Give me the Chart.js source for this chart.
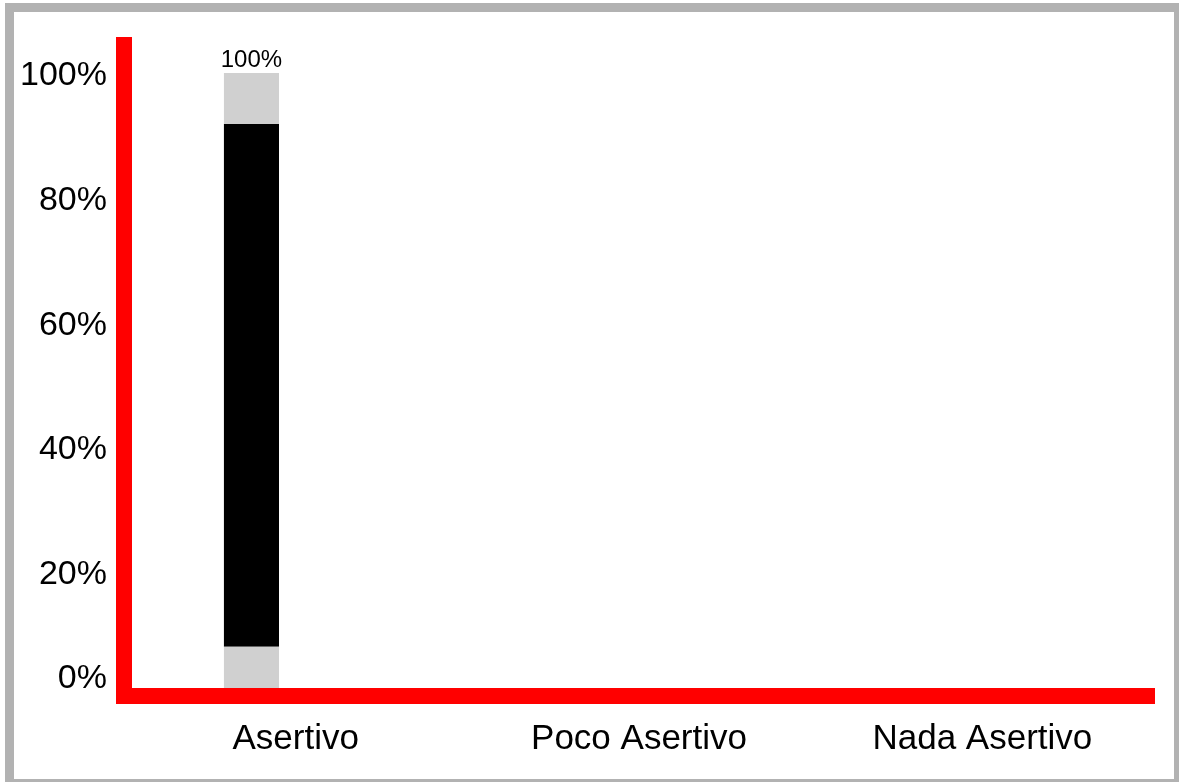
<!DOCTYPE html>
<html>
<head>
<meta charset="utf-8">
<script src="https://cdn.jsdelivr.net/npm/chart.js@4.4.0/dist/chart.umd.min.js"></script>
<style>
    html, body { margin: 0; padding: 0; background: #ffffff; overflow: hidden; }
    #frame { position: absolute; left: 5px; top: 3px; width: 1160px; height: 767px; border: 9px solid #b2b2b2; }
    #wrap { position: absolute; left: 0; top: 0; width: 1179px; height: 782px; }
</style>
</head>
<body>
<div id="frame"></div>
<div id="wrap"><canvas id="chart"></canvas></div>
<script>
"use strict";

/*==========================================================
    DATA
==========================================================*/

const categories = ["Asertivo", "Poco Asertivo", "Nada Asertivo"];

// stacked parts of each bar, in % (bottom to top)
const lowerGrey = [7.9, null, null];
const blackPart = [83.9, null, null];
const upperGrey = [8.2, null, null];

// second, empty group: the Asertivo bar sits in the left slot
const emptyGroup = [null, null, null];

const yTicks = [0, 20, 40, 60, 80, 100];


const FONT = "'Liberation Sans', Arial, sans-serif";


/*==========================================================
    TOTAL LABEL ON TOP OF THE BAR
==========================================================*/

const totalLabel = {

    id: "totalLabel",

    afterDatasetsDraw(chart) {

        const ctx = chart.ctx;
        const meta = chart.getDatasetMeta(2);

        ctx.save();
        ctx.font = "24px " + FONT;
        ctx.fillStyle = "#000000";
        ctx.textAlign = "center";
        ctx.textBaseline = "bottom";

        meta.data.forEach((bar, i) => {

            const total = (lowerGrey[i] || 0) + (blackPart[i] || 0) + (upperGrey[i] || 0);

            if (!total) return;

            ctx.fillText(Math.round(total) + "%", bar.x, bar.y - 1);

        });

        ctx.restore();

    }

};


/*==========================================================
    CHART
==========================================================*/

const barStyle = {
    stack: "main",
    borderWidth: 0,
    categoryPercentage: 0.515,
    barPercentage: 0.623
};

new Chart(document.getElementById("chart"), {

    type: "bar",

    data: {

        labels: categories,

        datasets: [
            Object.assign({ label: "bajo", data: lowerGrey, backgroundColor: "#d0d0d0" }, barStyle),
            Object.assign({ label: "medio", data: blackPart, backgroundColor: "#000000" }, barStyle),
            Object.assign({ label: "alto", data: upperGrey, backgroundColor: "#d0d0d0" }, barStyle),
            Object.assign({}, barStyle, { label: "vacío", data: emptyGroup, stack: "other", backgroundColor: "#ffffff" })
        ]

    },

    options: {

        responsive: true,
        maintainAspectRatio: false,
        animation: false,

        layout: {
            padding: { left: 14, right: 25, top: 45, bottom: 0 }
        },

        scales: {

            x: {
                stacked: true,
                grid: { display: false, drawTicks: false },
                border: { display: true, color: "#ff0000", width: 16, z: 1 },
                ticks: {
                    color: "#000000",
                    padding: 22,
                    font: { family: FONT, size: 35 },
                    maxRotation: 0
                },
                afterFit(scale) { scale.height = 86; }
            },

            y: {
                stacked: true,
                min: 0,
                max: 104.5,
                grid: { display: false, drawTicks: false },
                border: { display: true, color: "#ff0000", width: 16, z: 1 },
                afterBuildTicks(scale) {
                    scale.ticks = yTicks.map((v) => ({ value: v }));
                },
                ticks: {
                    color: "#000000",
                    padding: 17,
                    labelOffset: 3,
                    font: { family: FONT, size: 34 },
                    // the 0% label sits a bit above the axis, as in the original
                    callback: (v) => (v === 0 ? ["0%", ""] : v + "%")
                },
                afterFit(scale) { scale.width = 110; }
            }

        },

        plugins: {
            legend: { display: false },
            tooltip: { enabled: false }
        }

    },

    plugins: [totalLabel]

});
</script>
</body>
</html>
